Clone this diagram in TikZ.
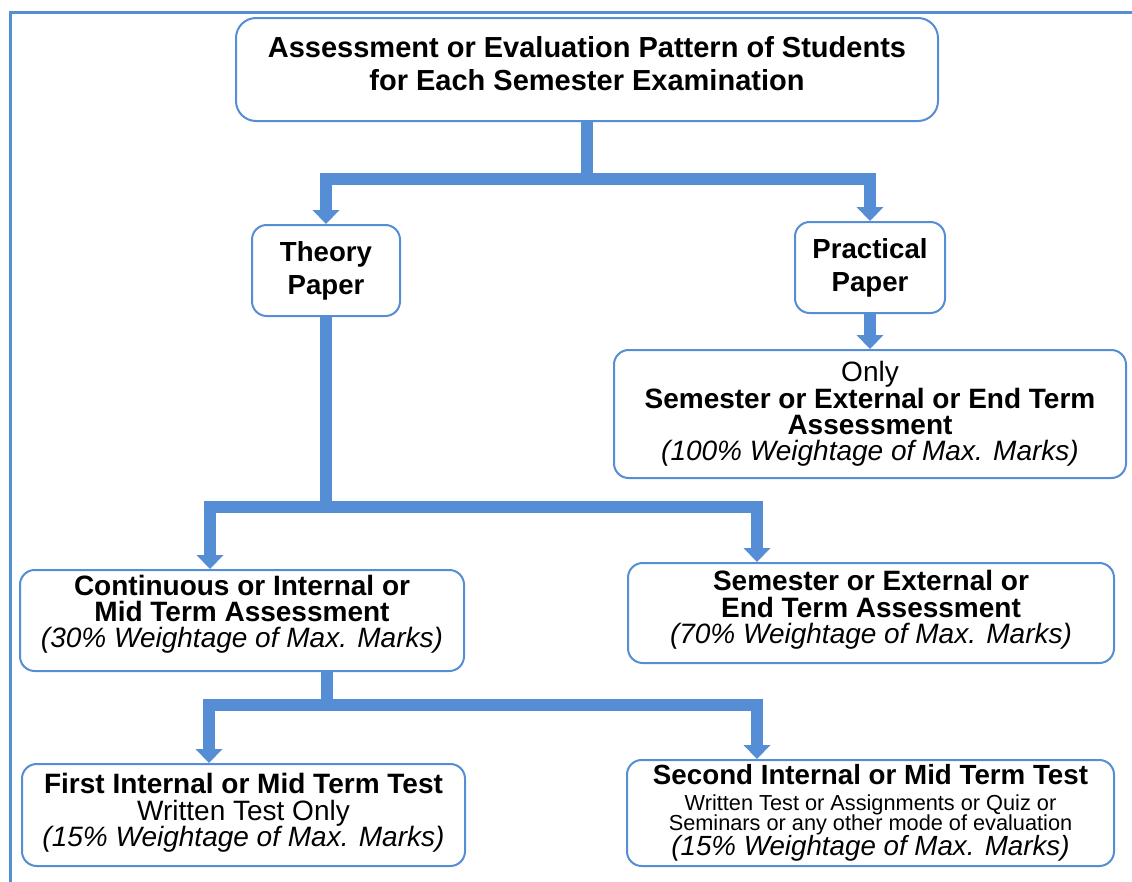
\documentclass[tikz,border=0pt]{standalone}
\usepackage{fontspec}
\setmainfont{Liberation Sans}
\usepackage{tikz}
\usetikzlibrary{arrows.meta}
\definecolor{flowblue}{RGB}{85,142,213}
\newcommand{\pxu}{0.75pt}
\newcommand{\lift}[1]{\rule[-#1]{0pt}{0pt}}
\tikzset{box/.style = {shape=rectangle,draw=flowblue,line width=1.5pt,rounded corners=11pt,align=center,inner sep=0pt,font=\fontsize{21}{19.7}\selectfont}}
\tikzset{head/.style = {font=\bfseries\fontsize{20.7}{24.75}\selectfont}}
\tikzset{edge/.style = {draw=flowblue,line width=9pt,-{Triangle[width=20.25pt,length=10.5pt,line width=0pt]}}}
\tikzset{trunk/.style = {draw=flowblue,line width=9pt}}

\begin{document}
\begin{tikzpicture}[x=\pxu,y=-\pxu]
        \useasboundingbox (0,0) rectangle (1132,882);
        \draw[flowblue,line width=2.25pt] (1140,12.5) -| (10,890);
        \node[box,rounded corners=15pt,minimum width=702*\pxu,minimum height=103*\pxu,font=\bfseries\fontsize{21.75}{24.75}\selectfont] (top) at (587,69.5) {Assessment or Evaluation Pattern of Students\\for Each Semester Examination\lift{9pt}};
        \node[box,head,minimum width=148*\pxu,minimum height=91*\pxu] (theory) at (326,270.5) {Theory\\Paper};
        \node[box,head,minimum width=150*\pxu,minimum height=91*\pxu] (prac) at (870,267.5) {Practical\\Paper};
        \coordinate (b1) at (587,179);
        \draw[trunk] (top.south) -- (b1);
        \draw[edge] (b1) -| (theory.north);
        \draw[edge] (b1) -| (prac.north);
        \node[box,minimum width=512*\pxu,minimum height=128*\pxu] (res) at (870,414) {Only\\\textbf{Semester or External or End Term}\\\textbf{Assessment}\\\textit{(100\% Weightage of Max. Marks)}};
        \draw[edge] (prac.south) -- (res.north);
        % theory paper split
        \node[box,minimum width=444*\pxu,minimum height=101*\pxu] (cont) at (242,620.5) {\textbf{Continuous or Internal or}\\\textbf{Mid Term Assessment}\\\textit{(30\% Weightage of Max. Marks)}\lift{13.5pt}};
        \node[box,minimum width=486*\pxu,minimum height=100*\pxu] (sem) at (871,613) {\textbf{Semester or External or}\\\textbf{End Term Assessment}\\\textit{(70\% Weightage of Max. Marks)}\lift{9pt}};
        \coordinate (b2) at (326,507);
        \coordinate (d3) at (210,507);
        \coordinate (d4) at (757,507);
        \draw[trunk] (theory.south) -- (b2);
        \draw[edge] (b2) -- (d3) -- (d3 |- cont.north);
        \draw[edge] (b2) -- (d4) -- (d4 |- sem.north);
        % internal tests
        \node[box,minimum width=443*\pxu,minimum height=102*\pxu] (first) at (243.5,815) {\textbf{First Internal or Mid Term Test}\\Written Test Only\\\textit{(15\% Weightage of Max. Marks)}\lift{7.5pt}};
        \node[box,minimum width=487*\pxu,minimum height=106*\pxu,font=\fontsize{20.8}{19}\selectfont] (second) at (870.5,813) {\textbf{Second Internal or Mid Term Test}\\{\fontsize{16.3}{15}\selectfont Written Test or Assignments or Quiz or}\\[-4pt]{\fontsize{16.3}{15}\selectfont Seminars or any other mode of evaluation}\\[0pt]\textit{(15\% Weightage of Max. Marks)}};
        \coordinate (b3) at (327,705);
        \coordinate (d5) at (209,705);
        \coordinate (d6) at (757,705);
        \draw[trunk] (cont.south -| b3) -- (b3);
        \draw[edge] (b3) -- (d5) -- (d5 |- first.north);
        \draw[edge] (b3) -- (d6) -- (d6 |- second.north);
\end{tikzpicture}
\end{document}
